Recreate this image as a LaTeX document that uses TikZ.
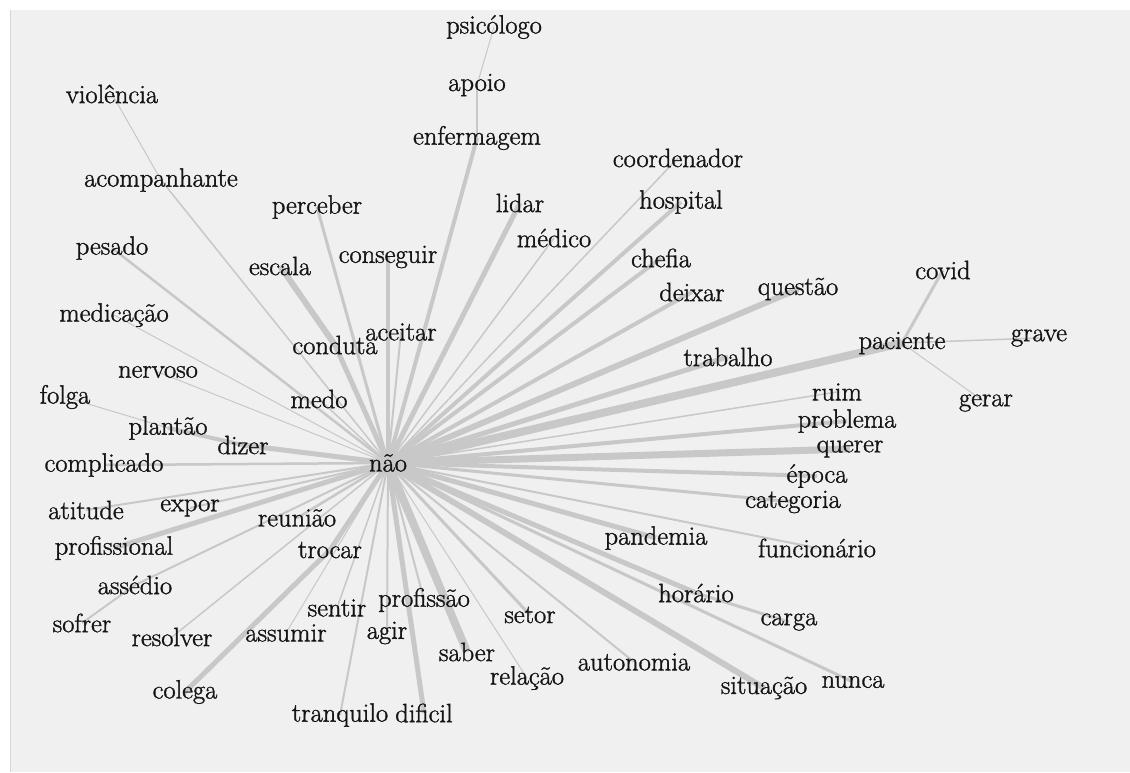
\documentclass[tikz,border=0pt]{standalone}
\usepackage{fontspec}
\newfontfamily\wordfont{Latin Modern Roman}[FakeBold=1.3]
\usetikzlibrary{backgrounds}
\definecolor{edgegray}{HTML}{C8C8C8}
\definecolor{bggray}{HTML}{F0F0F0}
\definecolor{framegray}{HTML}{D6D6D6}
\definecolor{wordcol}{HTML}{151515}
\begin{document}
\begin{tikzpicture}[x=1pt,y=-1pt,
  word/.style={inner sep=0pt, text=wordcol, font=\wordfont\fontsize{26.5}{29}\selectfont},
  link/.style={draw=edgegray, line width=#1pt},
]
\useasboundingbox (0,0) rectangle (1130,772);
% words
\node[word] (nao) at (388,463) {não};
\node[word] (psicologo) at (494,27) {psicólogo};
\node[word] (apoio) at (477,85) {apoio};
\node[word] (enfermagem) at (477,138) {enfermagem};
\node[word] (violencia) at (112,94) {violência};
\node[word] (coordenador) at (678,158) {coordenador};
\node[word] (acompanhante) at (161,180) {acompanhante};
\node[word] (perceber) at (317,207) {perceber};
\node[word] (lidar) at (520,203) {lidar};
\node[word] (hospital) at (681,202) {hospital};
\node[word] (medico) at (554,238) {médico};
\node[word] (pesado) at (112,248) {pesado};
\node[word] (escala) at (280,266) {escala};
\node[word] (conseguir) at (388,257) {conseguir};
\node[word] (chefia) at (661,258) {chefia};
\node[word] (deixar) at (692,292) {deixar};
\node[word] (questao) at (798,289) {questão};
\node[word] (covid) at (943,270) {covid};
\node[word] (medicacao) at (114,315) {medicação};
\node[word] (aceitar) at (401,332) {aceitar};
\node[word] (conduta) at (335,345) {conduta};
\node[word] (paciente) at (902,343) {paciente};
\node[word] (grave) at (1039,338) {grave};
\node[word] (trabalho) at (728,357) {trabalho};
\node[word] (nervoso) at (158,372) {nervoso};
\node[word] (ruim) at (837,392) {ruim};
\node[word] (gerar) at (986,403) {gerar};
\node[word] (folga) at (65,397) {folga};
\node[word] (medo) at (319,399) {medo};
\node[word] (problema) at (847,421) {problema};
\node[word] (plantao) at (168,428) {plantão};
\node[word] (dizer) at (243,445) {dizer};
\node[word] (querer) at (850,449) {querer};
\node[word] (complicado) at (104,465) {complicado};
\node[word] (epoca) at (817,476) {época};
\node[word] (categoria) at (793,502) {categoria};
\node[word] (atitude) at (86,510) {atitude};
\node[word] (expor) at (190,508) {expor};
\node[word] (reuniao) at (297,518) {reunião};
\node[word] (profissional) at (114,548) {profissional};
\node[word] (trocar) at (330,550) {trocar};
\node[word] (pandemia) at (656,538) {pandemia};
\node[word] (funcionario) at (817,548) {funcionário};
\node[word] (assedio) at (135,585) {assédio};
\node[word] (sentir) at (337,608) {sentir};
\node[word] (profissao) at (424,600) {profissão};
\node[word] (setor) at (530,615) {setor};
\node[word] (horario) at (696,593) {horário};
\node[word] (sofrer) at (82,623) {sofrer};
\node[word] (resolver) at (172,637) {resolver};
\node[word] (assumir) at (286,633) {assumir};
\node[word] (agir) at (387,633) {agir};
\node[word] (carga) at (789,622) {carga};
\node[word] (saber) at (467,652) {saber};
\node[word] (autonomia) at (634,662) {autonomia};
\node[word] (relacao) at (527,678) {relação};
\node[word] (colega) at (185,692) {colega};
\node[word] (situacao) at (764,688) {situação};
\node[word] (nunca) at (853,682) {nunca};
\node[word] (tranquilo) at (340,715) {tranquilo};
\node[word] (dificil) at (424,713) {dificil};
\begin{pgfonlayer}{background}
\fill[white] (0,0) rectangle (1130,772);
\fill[bggray] (10,10) rectangle (1130,772);
\draw[framegray, line width=1.2pt] (10.6,10) -- (10.6,772);
% edges
\draw[link=1]   (psicologo.center) -- (apoio.center);
\draw[link=1.5] (apoio.center) -- (enfermagem.center);
\draw[link=4]   (enfermagem.center) -- (nao.center);
\draw[link=1]   (violencia.center) -- (acompanhante.center);
\draw[link=1.5] (acompanhante.center) -- (nao.center);
\draw[link=2.5] (pesado.center) -- (nao.center);
\draw[link=1]   (medicacao.center) -- (nao.center);
\draw[link=1]   (nervoso.center) -- (nao.center);
\draw[link=1]   (folga.center) -- (plantao.center);
\draw[link=4]   (plantao.center) -- (dizer.center);
\draw[link=5]   (dizer.center) -- (nao.center);
\draw[link=2.5] (complicado.center) -- (nao.center);
\draw[link=2]   (atitude.center) -- (nao.center);
\draw[link=2]   (expor.center) -- (nao.center);
\draw[link=5]   (profissional.center) -- (nao.center);
\draw[link=2]   (sofrer.center) -- (assedio.center);
\draw[link=2]   (assedio.center) -- (nao.center);
\draw[link=1.5] (resolver.center) -- (nao.center);
\draw[link=2.5] (reuniao.center) -- (nao.center);
\draw[link=5]   (colega.center) -- (trocar.center);
\draw[link=5]   (trocar.center) -- (nao.center);
\draw[link=1]   (assumir.center) -- (nao.center);
\draw[link=1.5] (sentir.center) -- (nao.center);
\draw[link=2]   (tranquilo.center) -- (nao.center);
\draw[link=2]   (agir.center) -- (nao.center);
\draw[link=5]   (dificil.center) -- (nao.center);
\draw[link=2]   (profissao.center) -- (nao.center);
\draw[link=8]   (saber.center) -- (nao.center);
\draw[link=1]   (relacao.center) -- (nao.center);
\draw[link=3]   (setor.center) -- (nao.center);
\draw[link=2]   (autonomia.center) -- (nao.center);
\draw[link=6]   (situacao.center) -- (nao.center);
\draw[link=3]   (nunca.center) -- (nao.center);
\draw[link=5]   (horario.center) -- (nao.center);
\draw[link=3]   (horario.center) -- (carga.center);
\draw[link=5]   (pandemia.center) -- (nao.center);
\draw[link=2]   (funcionario.center) -- (nao.center);
\draw[link=3]   (categoria.center) -- (nao.center);
\draw[link=4]   (epoca.center) -- (nao.center);
\draw[link=7]   (querer.center) -- (nao.center);
\draw[link=4]   (problema.center) -- (nao.center);
\draw[link=1.5] (ruim.center) -- (nao.center);
\draw[link=8]   (paciente.center) -- (nao.center);
\draw[link=3]   (paciente.center) -- (covid.center);
\draw[link=1.5] (paciente.center) -- (grave.center);
\draw[link=1]   (paciente.center) -- (gerar.center);
\draw[link=5]   (trabalho.center) -- (nao.center);
\draw[link=6]   (questao.center) -- (nao.center);
\draw[link=4]   (deixar.center) -- (nao.center);
\draw[link=4]   (chefia.center) -- (nao.center);
\draw[link=4]   (hospital.center) -- (nao.center);
\draw[link=1.5] (coordenador.center) -- (nao.center);
\draw[link=1.5] (medico.center) -- (nao.center);
\draw[link=5]   (lidar.center) -- (nao.center);
\draw[link=4]   (conseguir.center) -- (nao.center);
\draw[link=2]   (aceitar.center) -- (nao.center);
\draw[link=3]   (perceber.center) -- (nao.center);
\draw[link=6]   (escala.center) -- (conduta.center);
\draw[link=5]   (conduta.center) -- (nao.center);
\draw[link=1.5] (medo.center) -- (nao.center);
\end{pgfonlayer}
\end{tikzpicture}
\end{document}
